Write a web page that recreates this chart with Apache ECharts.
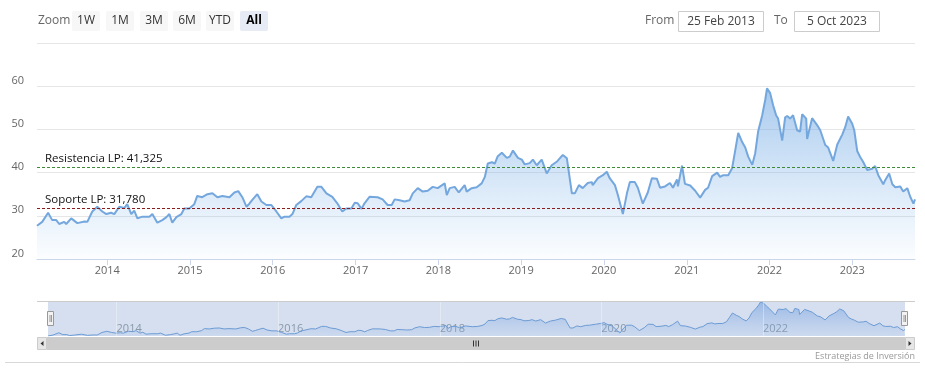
<!DOCTYPE html>
<html><head><meta charset="utf-8">
<script src="https://cdn.jsdelivr.net/npm/echarts@6/dist/echarts.min.js"></script>
<style>html,body{margin:0;padding:0;background:#fff}#c{width:925px;height:375px}</style>
</head><body><div id="c"></div>
<script>
const dates = ['2013-02-25','2013-03-20','2013-04-15','2013-05-03','2013-05-21','2013-06-03','2013-06-25','2013-07-04','2013-07-26','2013-08-22','2013-09-22','2013-10-05','2013-10-27','2013-11-18','2013-12-10','2013-12-28',
'2014-01-18','2014-02-01','2014-02-23','2014-03-17','2014-03-30','2014-04-17','2014-04-30','2014-05-14','2014-06-05','2014-07-06','2014-07-19','2014-08-10','2014-09-01','2014-09-19','2014-10-02','2014-10-15','2014-11-02','2014-11-24','2014-12-07','2014-12-29',
'2015-01-20','2015-02-02','2015-02-24','2015-03-19','2015-04-10','2015-05-02','2015-05-24','2015-06-24','2015-07-16','2015-08-02','2015-08-20','2015-09-07','2015-09-20','2015-10-03','2015-10-25','2015-11-12','2015-12-04','2015-12-26',
'2016-01-17','2016-02-08','2016-02-22','2016-03-15','2016-03-28','2016-04-14','2016-05-06','2016-05-28','2016-06-19','2016-07-16','2016-08-03','2016-08-25','2016-09-20','2016-10-12','2016-11-03','2016-11-21','2016-12-13','2016-12-28',
'2017-01-10','2017-01-27','2017-02-09','2017-03-03','2017-04-08','2017-04-30','2017-05-22','2017-06-09','2017-06-22','2017-07-14','2017-08-05','2017-08-27','2017-09-10','2017-10-02','2017-10-24','2017-11-15','2017-12-07','2017-12-29',
'2018-01-29','2018-02-07','2018-02-20','2018-03-14','2018-04-01','2018-04-27','2018-05-06','2018-05-28','2018-06-19','2018-07-11','2018-07-25','2018-08-07','2018-08-25','2018-09-07','2018-09-20','2018-10-08','2018-10-30','2018-11-12','2018-11-26','2018-12-18',
'2019-01-04','2019-01-17','2019-02-08','2019-02-22','2019-03-11','2019-04-02','2019-04-24','2019-05-16','2019-06-07','2019-07-04','2019-07-22','2019-07-26','2019-08-13','2019-08-26','2019-09-13','2019-09-30','2019-10-22','2019-11-09','2019-11-13','2019-12-06','2019-12-28',
'2020-01-14','2020-01-27','2020-02-19','2020-03-03','2020-03-25','2020-04-12','2020-04-25','2020-05-17','2020-05-30','2020-06-21','2020-07-13','2020-07-31','2020-08-22','2020-09-05','2020-09-27','2020-10-19','2020-11-01','2020-11-19','2020-11-23','2020-12-11','2020-12-24',
'2021-01-16','2021-02-07','2021-03-01','2021-03-23','2021-04-05','2021-04-23','2021-05-15','2021-05-28','2021-06-11','2021-07-03','2021-07-20','2021-08-03','2021-08-16','2021-09-03','2021-09-16','2021-09-29','2021-10-17','2021-10-30','2021-11-12','2021-11-30','2021-12-13','2021-12-21',
'2022-01-04','2022-01-17','2022-01-30','2022-02-08','2022-02-26','2022-03-11','2022-03-20','2022-04-02','2022-04-15','2022-05-03','2022-05-16','2022-05-25','2022-06-12','2022-06-16','2022-07-08','2022-07-30','2022-08-13','2022-09-04','2022-09-17','2022-10-09','2022-10-27','2022-11-18','2022-12-01','2022-12-14',
'2023-01-01','2023-01-10','2023-01-23','2023-02-05','2023-02-18','2023-03-08','2023-03-30','2023-04-12','2023-04-26','2023-05-18','2023-05-27','2023-06-13','2023-06-27','2023-07-10','2023-08-01','2023-08-14','2023-09-01','2023-09-14','2023-09-28','2023-10-05'];
const values = [27.7,28.6,30.7,29.0,29.0,28.1,28.6,28.1,29.4,28.3,28.7,28.6,31.0,32.1,31.0,30.4,
30.7,30.4,32.1,31.8,32.7,30.4,31.2,29.4,29.8,29.8,30.4,28.4,29.0,29.7,30.4,28.4,29.7,30.4,31.7,31.7,
32.7,34.6,34.3,35.0,35.2,34.3,34.6,34.3,35.4,35.7,34.3,32.1,32.8,33.7,35.0,33.3,32.5,32.5,
31.0,29.4,29.8,29.8,30.4,32.5,33.4,34.5,34.3,36.7,36.7,35.2,34.4,32.9,31.0,31.7,31.7,33.0,
32.9,31.6,32.9,34.4,34.3,33.8,32.5,32.5,33.8,33.6,33.3,33.6,35.2,36.4,35.6,35.8,36.7,36.4,
37.5,34.8,36.4,36.7,35.4,37.1,35.6,36.4,36.6,37.5,39.0,42.1,42.4,42.1,43.8,44.6,43.4,43.7,45.1,43.4,
43.0,41.9,42.2,43.0,41.7,43.0,39.8,41.7,42.5,44.1,43.3,43.0,35.2,35.2,37.1,36.4,37.6,37.8,37.1,38.7,39.4,
40.2,38.7,37.1,34.8,30.4,35.2,37.8,37.8,36.5,32.8,35.4,38.7,38.6,36.5,36.8,37.6,36.5,38.4,36.8,41.6,37.4,
37.0,35.8,34.2,36.0,36.5,39.2,40.0,39.0,39.4,39.4,41.0,45.2,49.2,47.0,45.8,43.7,41.8,44.5,49.6,53.3,56.8,59.5,
58.4,55.6,53.3,52.5,47.4,52.8,53.1,52.5,53.3,49.8,49.5,53.5,52.5,47.8,52.6,51.0,49.8,46.4,45.8,42.7,46.5,48.8,50.5,53.0,
51.3,49.8,45.0,43.6,42.5,40.6,40.9,41.5,39.4,37.3,38.3,39.8,37.3,36.6,36.8,35.6,36.4,34.4,32.8,33.8];

const yTicks = [20, 30, 40, 50, 60, 70];
const yearTicks = ['2014-01-01','2015-01-01','2016-01-01','2017-01-01','2018-01-01','2019-01-01','2020-01-01','2021-01-01','2022-01-01','2023-01-01'];
const navYearTicks = ['2014-01-01','2016-01-01','2018-01-01','2020-01-01','2022-01-01'];
const levelNames = ['Resistencia LP', 'Soporte LP'];
const levelValues = [41.325, 31.78];
const levelColors = ['#3d8b37', '#8b1c1c'];
const rangeFrom = '2013-02-25', rangeTo = '2023-10-05';
const rangeButtons = ['1W','1M','3M','6M','YTD','All'];

function ts(s){ const p = s.split('-').map(Number); return Date.UTC(p[0], p[1]-1, p[2]); }
function yr(v){ return String(new Date(v + 43200000).getUTCFullYear()); }
const series = dates.map((d,i)=>[ts(d), values[i]]);
const yearTs = yearTicks.map(ts), navTs = navYearTicks.map(ts);
const font = 'Open Sans, Liberation Sans, sans-serif';

const chart = echarts.init(document.getElementById('c'), null, {renderer:'canvas'});

const g = [];
g.push({type:'text', x:38, y:21, style:{text:'Zoom', fill:'#666', font:'12px '+font, verticalAlign:'middle'}});
const btnX = [72,106,140,173,206,240];
rangeButtons.forEach((b,i)=>{
  const sel = b==='All';
  g.push({type:'rect', shape:{x:btnX[i], y:11, width:28, height:20, r:2}, style:{fill: sel?'#e6ebf5':'#f7f7f7'}});
  g.push({type:'text', x:btnX[i]+14, y:21, style:{text:b, fill: sel?'#000':'#333', font:(sel?'bold ':'')+'12px '+font, align:'center', verticalAlign:'middle'}});
});
g.push({type:'text', x:645, y:21, style:{text:'From', fill:'#666', font:'12px '+font, verticalAlign:'middle'}});
g.push({type:'rect', shape:{x:678.5, y:11.5, width:85, height:20}, style:{fill:'#fff', stroke:'#ccc', lineWidth:1}});
g.push({type:'text', x:721, y:21.5, style:{text:rangeFrom ? '25 Feb 2013' : '', fill:'#444', font:'12px '+font, align:'center', verticalAlign:'middle'}});
g.push({type:'text', x:774, y:21, style:{text:'To', fill:'#666', font:'12px '+font, verticalAlign:'middle'}});
g.push({type:'rect', shape:{x:794.5, y:11.5, width:85, height:20}, style:{fill:'#fff', stroke:'#ccc', lineWidth:1}});
g.push({type:'text', x:837, y:21.5, style:{text:'5 Oct 2023', fill:'#444', font:'12px '+font, align:'center', verticalAlign:'middle'}});
g.push({type:'line', shape:{x1:37, y1:301.5, x2:915, y2:301.5}, style:{stroke:'#cccccc', lineWidth:1}, z:10});
[47.5, 901.5].forEach(x=>{
  g.push({type:'rect', shape:{x:x, y:311.5, width:6, height:14}, style:{fill:'#f2f2f2', stroke:'#999', lineWidth:1}, z:11});
  g.push({type:'line', shape:{x1:x+2.5, y1:315, x2:x+2.5, y2:322}, style:{stroke:'#999', lineWidth:1}, z:12});
  g.push({type:'line', shape:{x1:x+4, y1:315, x2:x+4, y2:322}, style:{stroke:'#999', lineWidth:1}, z:12});
});
g.push({type:'rect', shape:{x:37, y:337, width:878, height:13}, style:{fill:'#f2f2f2'}, z:10});
g.push({type:'rect', shape:{x:47, y:337, width:858, height:13}, style:{fill:'#cccccc'}, z:10});
g.push({type:'rect', shape:{x:37.5, y:337.5, width:9, height:12}, style:{fill:'#e6e6e6', stroke:'#cccccc'}, z:11});
g.push({type:'rect', shape:{x:905.5, y:337.5, width:9, height:12}, style:{fill:'#e6e6e6', stroke:'#cccccc'}, z:11});
g.push({type:'polygon', shape:{points:[[43.5,341],[43.5,346],[40.5,343.5]]}, style:{fill:'#333'}, z:12});
g.push({type:'polygon', shape:{points:[[908.5,341],[908.5,346],[911.5,343.5]]}, style:{fill:'#333'}, z:12});
[473.5,476,478.5].forEach(x=>g.push({type:'line', shape:{x1:x, y1:340.5, x2:x, y2:346.5}, style:{stroke:'#333', lineWidth:1}, z:12}));
g.push({type:'text', x:915, y:356, style:{text:'Estrategias de Inversión', fill:'#999', font:'9px '+font, align:'right', verticalAlign:'middle'}});
g.push({type:'line', shape:{x1:5, y1:362.5, x2:920, y2:362.5}, style:{stroke:'#d8d8d8', lineWidth:1}});

chart.setOption({
  animation:false,
  backgroundColor:'#fff',
  textStyle:{fontFamily:font},
  grid:[
    {left:37, right:10, top:43, bottom:116},
    {left:48, right:20, top:302, bottom:39, show:true, backgroundColor:'#d6dfef', borderWidth:0}
  ],
  xAxis:[
    {type:'value', gridIndex:0, min:ts(rangeFrom), max:ts(rangeTo),
     axisLine:{lineStyle:{color:'#ccd6eb'}},
     axisTick:{show:true, length:6, customValues:yearTs, lineStyle:{color:'#ccd6eb'}},
     axisLabel:{customValues:yearTs, color:'#666', fontSize:11, margin:6, formatter:v=>yr(v)},
     splitLine:{show:false}},
    {type:'value', gridIndex:1, min:ts(rangeFrom), max:ts(rangeTo),
     axisLine:{show:false}, axisTick:{show:false},
     axisLabel:{customValues:navTs, inside:true, color:'#8899aa', fontSize:11, align:'left', margin:2, formatter:v=>yr(v)},
     splitLine:{show:false}}
  ],
  yAxis:[
    {type:'value', gridIndex:0, min:yTicks[0], max:yTicks[yTicks.length-1], interval:10,
     axisLine:{show:false}, axisTick:{show:false},
     axisLabel:{color:'#666', fontSize:11, margin:13, verticalAlign:'bottom', showMaxLabel:false},
     splitLine:{lineStyle:{color:'#e6e6e6'}}},
    {type:'value', gridIndex:1, min:'dataMin', max:'dataMax', show:false, splitLine:{show:false}}
  ],
  series:[
    {type:'line', xAxisIndex:0, yAxisIndex:0, data:series, showSymbol:false, symbol:'none',
     lineStyle:{color:'#74a7dd', width:2}, z:3,
     areaStyle:{origin:'start', color:new echarts.graphic.LinearGradient(0,0,0,1,[{offset:0,color:'rgba(110,165,225,0.85)'},{offset:1,color:'rgba(124,181,236,0.04)'}])},
     markLine:{symbol:['none','none'], silent:true, z:5,
       data: levelValues.map((v,i)=>({yAxis:v, lineStyle:{color:levelColors[i], type:[3,2], width:1},
         label:{formatter: levelNames[i]+': '+v.toFixed(3).replace('.',','), position:'insideStartTop', color:'#111', fontSize:11.5, fontFamily:font, distance:[8,2]}}))}
    },
    {type:'line', xAxisIndex:1, yAxisIndex:1, data:series, showSymbol:false, symbol:'none',
     lineStyle:{color:'#6c9bd4', width:1},
     areaStyle:{origin:'start', color:new echarts.graphic.LinearGradient(0,0,0,1,[{offset:0,color:'rgba(100,150,220,0.75)'},{offset:1,color:'rgba(124,170,230,0.15)'}])},
     markLine:{symbol:['none','none'], silent:true, label:{show:false},
       lineStyle:{color:'rgba(255,255,255,0.35)', type:'solid', width:1},
       data: navTs.map(t=>({xAxis:t}))}
    }
  ],
  graphic:g
});
</script>
</body></html>
